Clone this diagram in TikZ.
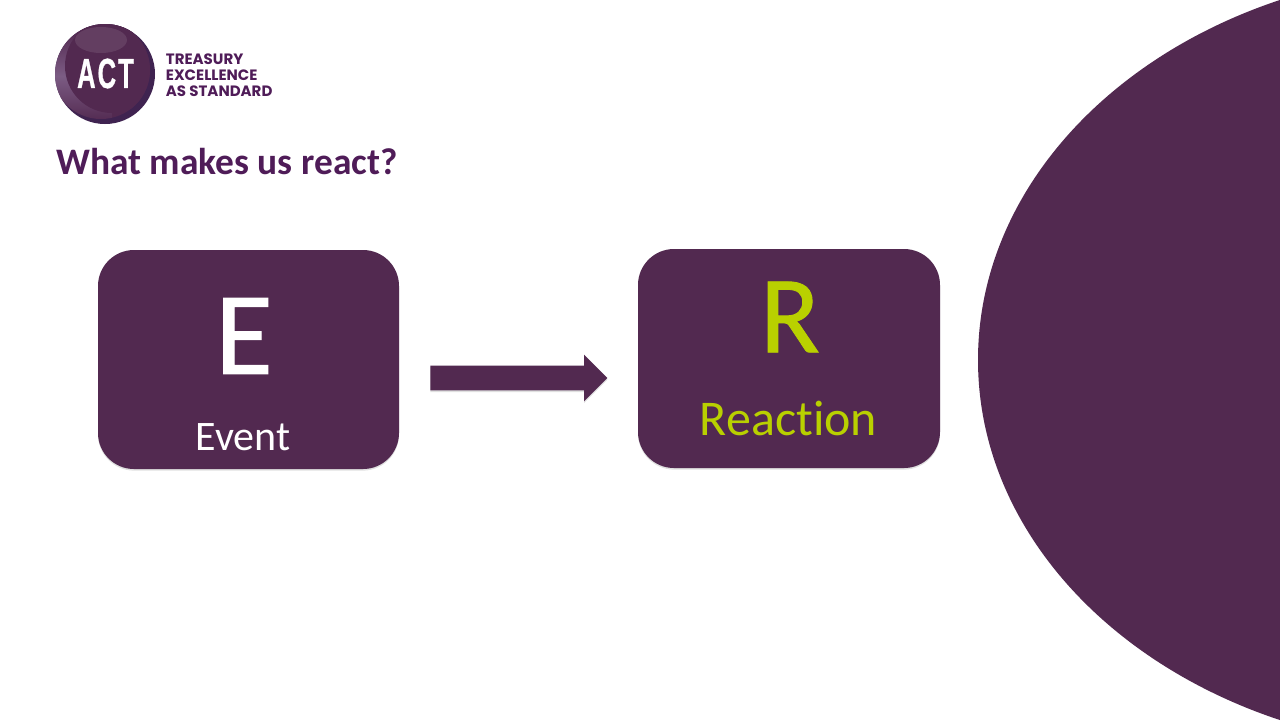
\documentclass[tikz,border=0pt]{standalone}
\usepackage{fontspec}
\setmainfont{Carlito}[Ligatures=NoCommon]
\newfontfamily\brandfont{Poppins}
\newfontfamily\badgefont[LetterSpace=8,FakeBold=1]{Liberation Sans}
\newfontfamily\heavyfont[FakeBold=.8]{Carlito}
\usetikzlibrary{shapes.arrows,shadows,shadings}
\definecolor{plum}{HTML}{522950}
\definecolor{titleplum}{HTML}{4F1C58}
\definecolor{lime}{HTML}{B9D000}
\definecolor{badgelight}{HTML}{7C5C84}
\definecolor{badgedark}{HTML}{3F2350}
\tikzset{
  softshadow/.style={drop shadow={shadow xshift=0pt,shadow yshift=-.8pt,opacity=.12,fill=black}},
  tile/.style={rounded corners=18pt,fill=plum,softshadow},
  bigletter/.style={inner sep=0pt},
  caption/.style={inner sep=0pt},
  brandline/.style={font=\brandfont\bfseries\fontsize{7.5}{8}\selectfont,text=titleplum,anchor=west,inner sep=0pt},
}
\begin{document}
\begin{tikzpicture}[x=.5pt,y=-.5pt]
\useasboundingbox (0,0) rectangle (1280,720);
\fill[white] (0,0) rectangle (1280,720);

% large disc running off the right edge
\begin{scope}
  \clip (0,0) rectangle (1280,720);
  \fill[plum] (1469,360) ellipse [x radius=491,y radius=390];
\end{scope}

% badge
\fill[badgedark] (105,74) circle [radius=50];
\begin{scope}
  \clip (105,74) circle [radius=50];
  \begin{scope}
    \clip (101,70) circle [radius=49];
    \shade[top color=plum,bottom color=plum,middle color=badgelight] (52,30) rectangle (112,122);
    \fill[plum] (52,20) rectangle (160,30);
    \fill[plum] (112,20) rectangle (160,122);
    \fill[plum] (112,66) circle [radius=47];
  \end{scope}
  \fill[white,opacity=.10] (101,40) ellipse [x radius=26,y radius=13];
\end{scope}
\node[inner sep=0pt,text=white] (badgetext) at (105.5,73.5)
  {\scalebox{.61}[1]{\badgefont\bfseries\fontsize{21}{21}\selectfont ACT}};
\node[brandline] (brand1) at (165.5,59) {TREASURY};
\node[brandline] (brand2) at (165.5,75) {EXCELLENCE};
\node[brandline] (brand3) at (165.5,91) {AS STANDARD};

% heading
\node[anchor=west,inner sep=0pt,text=titleplum,font=\bfseries\fontsize{18.7}{20}\selectfont] (heading) at (56,162) {What makes us react?};

% event tile
\path[tile] (98,250) rectangle (399,469);
\node[bigletter,text=white,font=\heavyfont\fontsize{59}{59}\selectfont] (eventletter) at (244,336) {E};
\node[caption,text=white,font=\fontsize{21}{24}\selectfont] (eventlabel) at (243,437) {Event};

% reaction tile
\path[tile] (638,249) rectangle (940,468);
\node[bigletter,text=lime,font=\heavyfont\fontsize{55}{55}\selectfont] (reactionletter) at (790,317) {R};
\node[caption,text=lime,font=\fontsize{25}{28}\selectfont] (reactionlabel) at (788.5,418) {Reaction};

% block arrow between the tiles
\node[single arrow,fill=plum,softshadow,draw=none,inner sep=0pt,
  text height=12pt,text depth=0pt,text width=0pt,
  minimum height=88.5pt,minimum width=23pt,single arrow head extend=5.5pt,
  single arrow tip angle=90,single arrow head indent=0pt,anchor=tail] (flow) at (430,378) {};
\end{tikzpicture}
\end{document}
